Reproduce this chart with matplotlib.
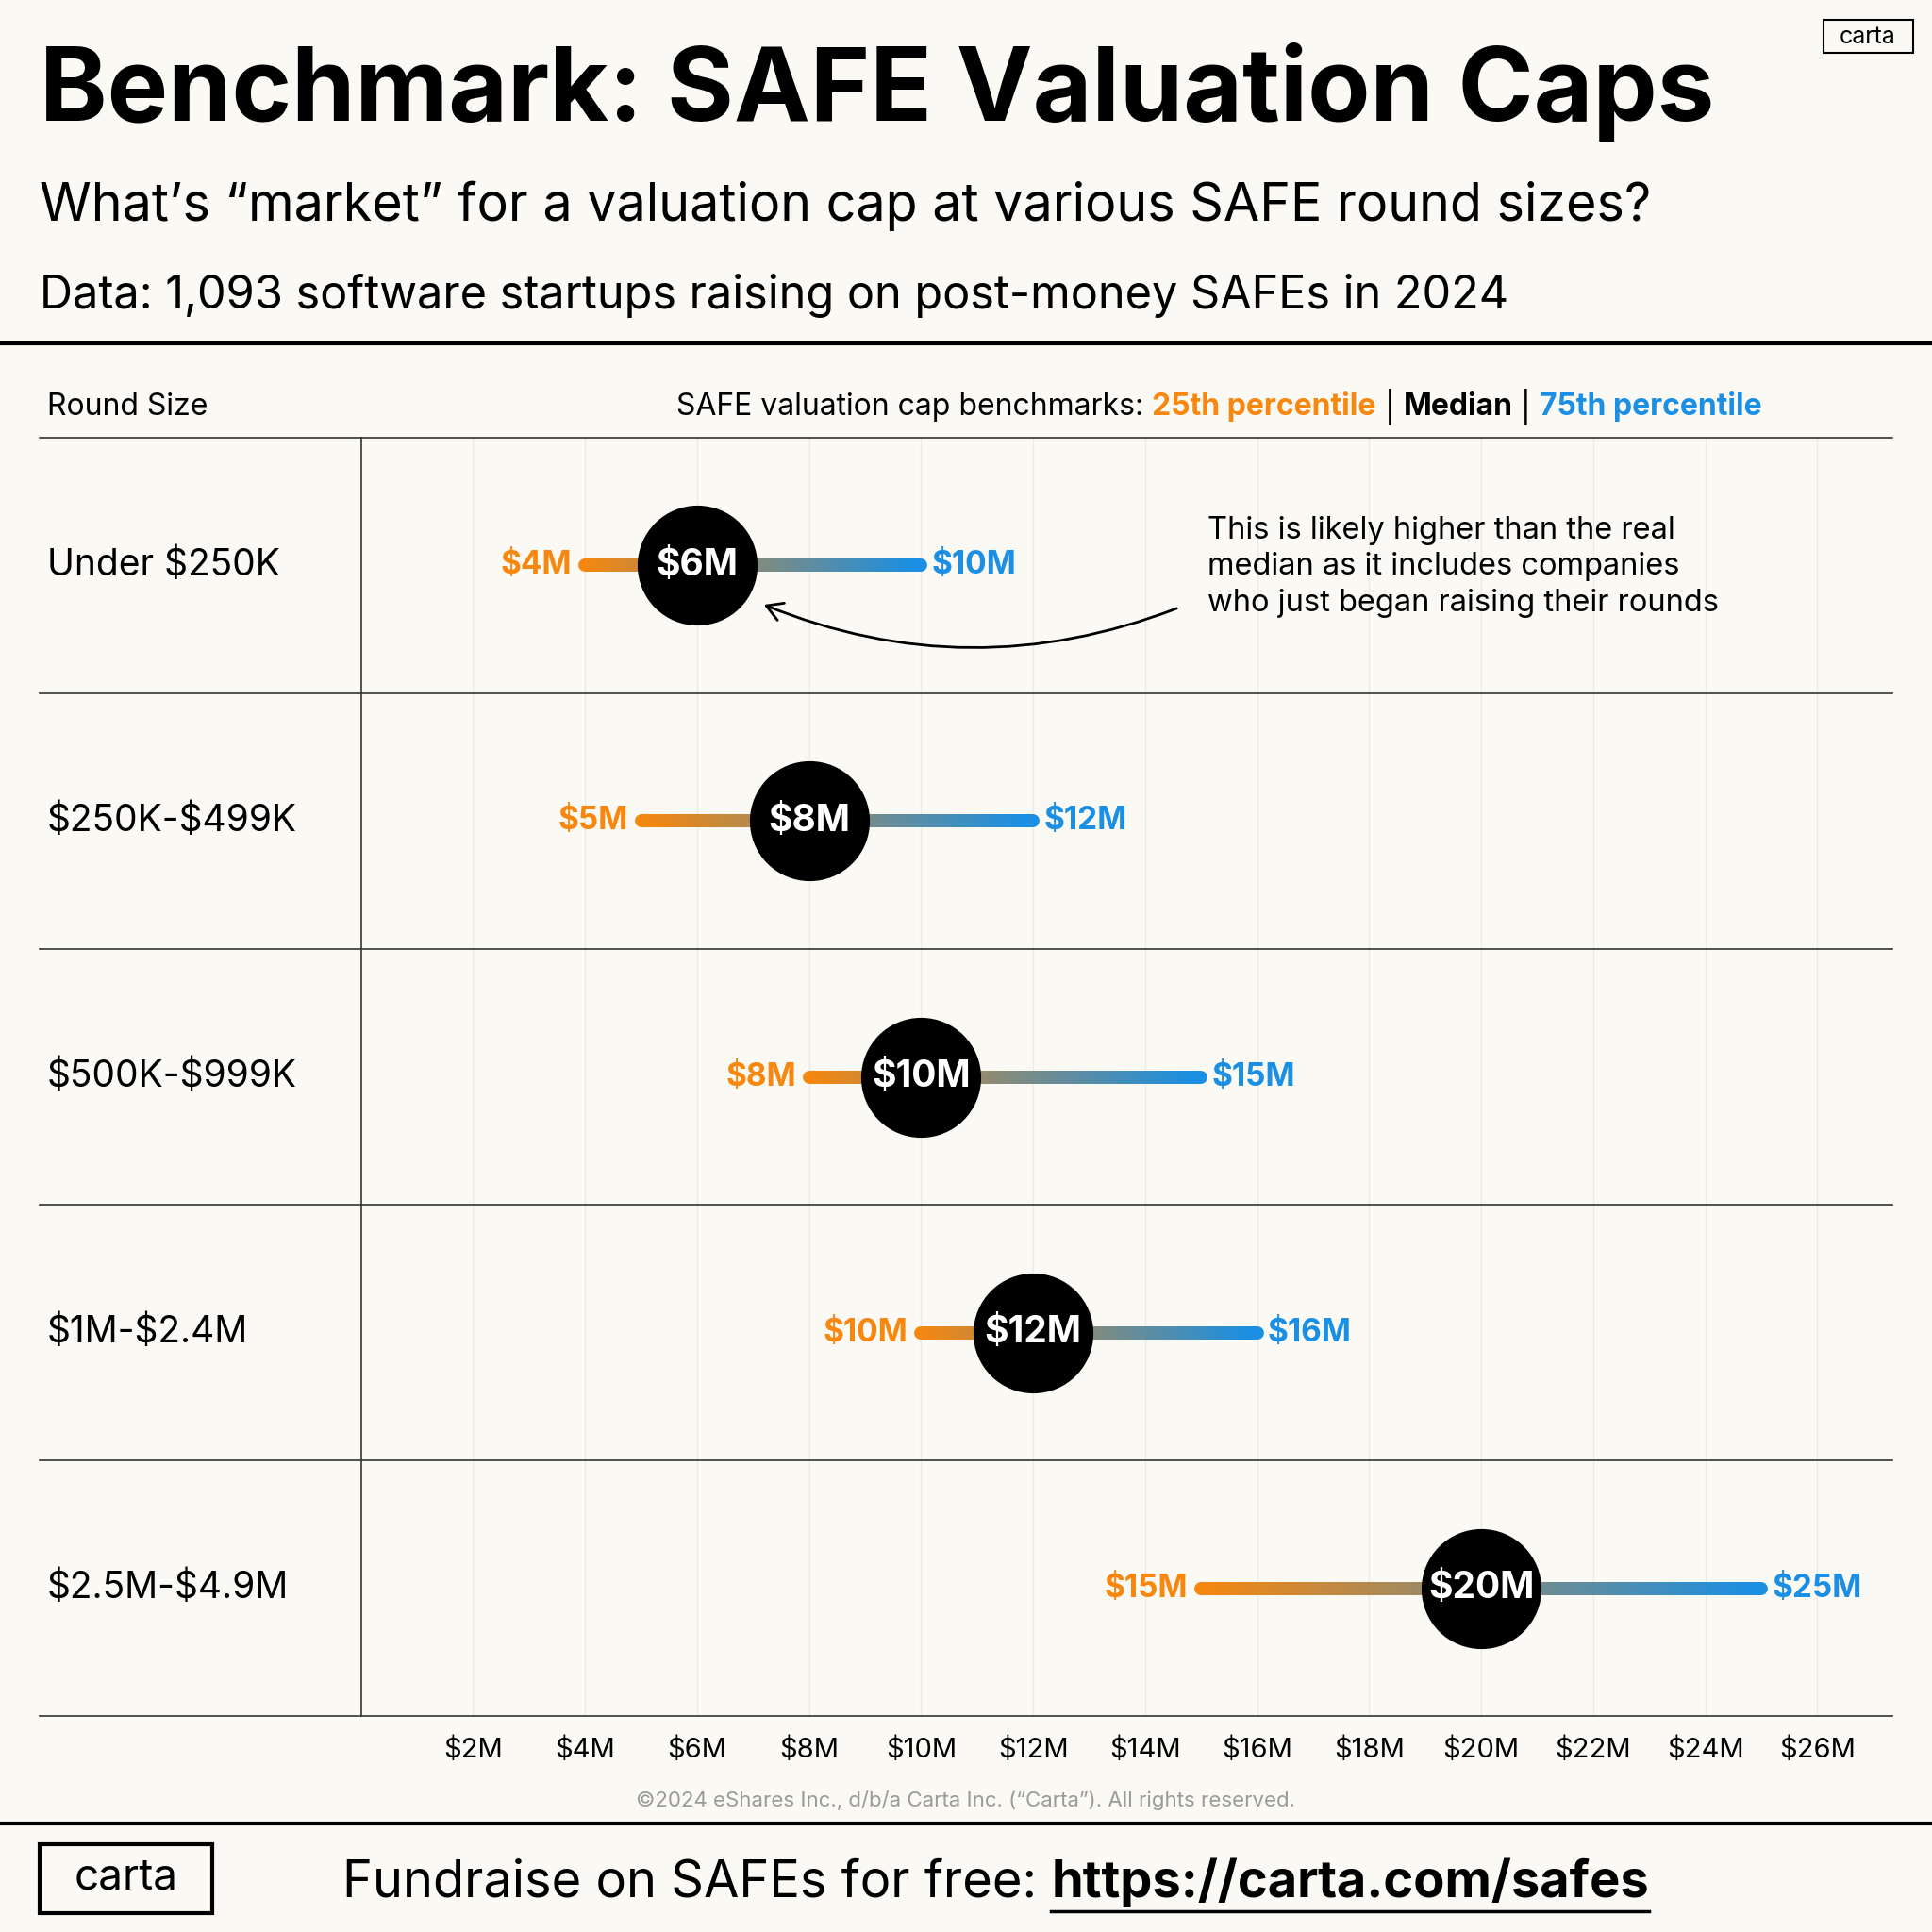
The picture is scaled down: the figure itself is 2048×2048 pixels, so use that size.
import matplotlib
matplotlib.use("Agg")
import matplotlib.pyplot as plt
import numpy as np
from matplotlib.collections import LineCollection
from matplotlib.colors import LinearSegmentedColormap
from matplotlib.patches import FancyArrowPatch, Rectangle

rounds = ["Under $250K", "$250K-$499K", "$500K-$999K", "$1M-$2.4M", "$2.5M-$4.9M"]
p25 = [4, 5, 8, 10, 15]
median = [6, 8, 10, 12, 20]
p75 = [10, 12, 15, 16, 25]
ticks = [2, 4, 6, 8, 10, 12, 14, 16, 18, 20, 22, 24, 26]

BG = "#FBF9F4"; ORANGE = "#F7870F"; BLUE = "#1A8FE3"
plt.rcParams['font.family'] = ['Inter', 'DejaVu Sans']
fig = plt.figure(figsize=(20.48, 20.48), dpi=100, facecolor=BG)
S = 1568.0
def fx(x): return x / S
def fy(y): return 1 - y / S

fig.text(fx(32), fy(75), "Benchmark: SAFE Valuation Caps", fontsize=78, fontweight='bold', va='center', ha='left')
fig.text(fx(32), fy(167), "What\u2019s \u201cmarket\u201d for a valuation cap at various SAFE round sizes?", fontsize=40, va='center')
fig.text(fx(32), fy(240), "Data: 1,093 software startups raising on post-money SAFEs in 2024", fontsize=35, va='center')
fig.add_artist(plt.Line2D([0, 1], [fy(279)] * 2, color='black', lw=3))
fig.add_artist(plt.Line2D([0, 1], [fy(1480)] * 2, color='black', lw=3))

fig.add_artist(Rectangle((fx(1480), fy(43)), fx(73), fy(16) - fy(43), fill=False, lw=1.5, ec='black'))
fig.text(fx(1516), fy(30), "carta", fontsize=18, ha='center', va='center')

fig.text(fx(38), fy(330), "Round Size", fontsize=23, va='center')
hy = fy(330); hx = fx(1430)
parts = [("75th percentile", BLUE, 'bold'), (" | ", 'black', 'normal'), ("Median", 'black', 'bold'),
         (" | ", 'black', 'normal'), ("25th percentile", ORANGE, 'bold'),
         ("SAFE valuation cap benchmarks: ", 'black', 'normal')]
fig.canvas.draw()
r = fig.canvas.get_renderer()
x = hx
for txt, c, w in parts:
    t = fig.text(x, hy, txt, fontsize=23, color=c, fontweight=w, ha='right', va='center')
    bb = t.get_window_extent(r)
    x -= bb.width / fig.bbox.width

rows_y = [355, 563, 770, 978, 1185, 1393]
for y in rows_y:
    fig.add_artist(plt.Line2D([fx(32), fx(1536)], [fy(y)] * 2, color='#333', lw=1.2))
fig.add_artist(plt.Line2D([fx(293)] * 2, [fy(355), fy(1393)], color='#333', lw=1.2))
for i, name in enumerate(rounds):
    fig.text(fx(38), fy((rows_y[i] + rows_y[i + 1]) / 2), name, fontsize=28, va='center', parse_math=False)

ax = fig.add_axes([fx(293), fy(1393), fx(1536 - 293), fy(355) - fy(1393)])
ax.set_facecolor('none')
ax.set_xlim(0, (1536 - 293) / 45.46)
ax.set_ylim(len(rounds) - 0.5, -0.5)
for s in ax.spines.values(): s.set_visible(False)
for t in ticks: ax.axvline(t, color='#ECEAE4', lw=1, zorder=0)
ax.set_xticks(ticks)
ax.set_xticklabels([f"${t}M" for t in ticks], fontsize=21)
ax.tick_params(axis='x', length=0, pad=16)
ax.set_yticks([])

cmap = LinearSegmentedColormap.from_list("g", [ORANGE, BLUE])
for i in range(len(rounds)):
    xs = np.linspace(p25[i], p75[i], 200)
    segs = [[(xs[k], i), (xs[k + 1], i)] for k in range(len(xs) - 1)]
    cols = [cmap(k / (len(xs) - 2)) for k in range(len(xs) - 1)]
    ax.add_collection(LineCollection(segs, colors=cols, lw=10, capstyle='round', zorder=2))
    ax.scatter([median[i]], [i], s=8200, color='black', zorder=3)
    ax.text(median[i], i, f"${median[i]}M", color='white', fontsize=28, fontweight='bold', ha='center', va='center', zorder=4)
    ax.annotate(f"${p25[i]}M", (p25[i], i), xytext=(-10, 0), textcoords='offset points', ha='right', va='center',
                color=ORANGE, fontsize=24, fontweight='bold')
    ax.annotate(f"${p75[i]}M", (p75[i], i), xytext=(8, 0), textcoords='offset points', ha='left', va='center',
                color=BLUE, fontsize=24, fontweight='bold')

fig.text(fx(980), fy(460), "This is likely higher than the real\nmedian as it includes companies\nwho just began raising their rounds",
         fontsize=23.5, va='center', ha='left', linespacing=1.3)
fig.add_artist(FancyArrowPatch((fx(957), fy(493)), (fx(618), fy(490)), transform=fig.transFigure,
                               connectionstyle="arc3,rad=-0.2", arrowstyle='->,head_length=12,head_width=7', lw=2, color='black'))

fig.text(fx(784), fy(1461), "\u00a92024 eShares Inc., d/b/a Carta Inc. (\u201cCarta\u201d). All rights reserved.", fontsize=16, color='#9A9A9A', ha='center', va='center')

fig.add_artist(Rectangle((fx(32), fy(1553)), fx(140), fy(1497) - fy(1553), fill=False, lw=3, ec='black'))
fig.text(fx(102), fy(1524), "carta", fontsize=33, ha='center', va='center')
t1 = fig.text(fx(278), fy(1528), "Fundraise on SAFEs for free: ", fontsize=39, va='center')
bb = t1.get_window_extent(r)
x2 = fx(278) + bb.width / fig.bbox.width
t2 = fig.text(x2, fy(1528), "https://carta.com/safes", fontsize=39, fontweight='bold', va='center')
bb2 = t2.get_window_extent(r)
fig.add_artist(plt.Line2D([x2, x2 + bb2.width / fig.bbox.width], [fy(1551)] * 2, color='black', lw=2.5))

fig.savefig("out.png", dpi=100, facecolor=BG)
